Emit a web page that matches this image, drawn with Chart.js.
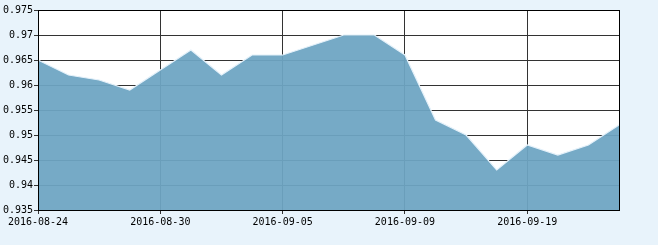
<!DOCTYPE html>
<html>
<head>
<meta charset="utf-8">
<script src="https://cdn.jsdelivr.net/npm/chart.js@4"></script>
<style>
  html, body { margin: 0; padding: 0; background: #e8f3fb; }
  #wrap { width: 658px; height: 245px; }
</style>
</head>
<body>
<div id="wrap"><canvas id="navChart"></canvas></div>
<script>
// trading days shown on the x axis
const dates = [
    '2016-08-24', '2016-08-25', '2016-08-26', '2016-08-29', '2016-08-30',
    '2016-08-31', '2016-09-01', '2016-09-02', '2016-09-05', '2016-09-06',
    '2016-09-07', '2016-09-08', '2016-09-09', '2016-09-12', '2016-09-13',
    '2016-09-14', '2016-09-19', '2016-09-20', '2016-09-21', '2016-09-22'
];
// values
const values = [
    0.965, 0.962, 0.961, 0.959, 0.963,
    0.967, 0.962, 0.966, 0.966, 0.968,
    0.970, 0.970, 0.966, 0.953, 0.950,
    0.943, 0.948, 0.946, 0.948, 0.952
];
const yMin = 0.935;
const yMax = 0.975;
const yStep = 0.005;

// white plot background + black frame
const plotFrame = {
    id: 'plotFrame',
    beforeDraw(chart) {
        const { ctx, chartArea: a } = chart;
        ctx.save();
        ctx.fillStyle = '#ffffff';
        ctx.fillRect(a.left, a.top, a.right - a.left, a.bottom - a.top);
        ctx.restore();
    },
    afterDraw(chart) {
        const { ctx, chartArea: a } = chart;
        ctx.save();
        ctx.strokeStyle = '#000000';
        ctx.lineWidth = 1;
        ctx.strokeRect(Math.round(a.left) + 0.5, Math.round(a.top) + 0.5,
            Math.round(a.right - a.left), Math.round(a.bottom - a.top));
        ctx.restore();
    }
};

const ctx = document.getElementById('navChart').getContext('2d');
new Chart(ctx, {
    type: 'line',
    data: {
        labels: dates,
        datasets: [{
            data: values,
            borderColor: '#e4f1fa',
            borderWidth: 1.2,
            backgroundColor: 'rgba(109,165,194,0.94)',
            fill: 'start',
            pointRadius: 0,
            tension: 0
        }]
    },
    options: {
        responsive: true,
        maintainAspectRatio: false,
        animation: false,
        layout: { padding: { top: 10, right: 39, left: 0, bottom: 0 } },
        plugins: { legend: { display: false }, tooltip: { enabled: false } },
        scales: {
            x: {
                offset: false,
                afterFit: s => { s.height = 35; },
                border: { color: '#000', width: 1 },
                grid: {
                    color: c => (c.index % 4 === 0 ? '#333333' : 'rgba(0,0,0,0)'),
                    tickLength: 4
                },
                ticks: {
                    autoSkip: false,
                    maxRotation: 0,
                    padding: 2,
                    color: '#000',
                    font: { family: 'DejaVu Sans Mono', size: 10 },
                    callback: (v, i) => (i % 4 === 0 ? dates[i] : '')
                }
            },
            y: {
                min: yMin,
                max: yMax,
                afterFit: s => { s.width = 38; },
                border: { color: '#000', width: 1 },
                grid: { color: '#333333', tickLength: 4 },
                ticks: {
                    stepSize: yStep,
                    padding: 1,
                    color: '#000',
                    font: { family: 'DejaVu Sans Mono', size: 10 },
                    callback: v => String(+v.toFixed(3))
                }
            }
        }
    },
    plugins: [plotFrame]
});
</script>
</body>
</html>
